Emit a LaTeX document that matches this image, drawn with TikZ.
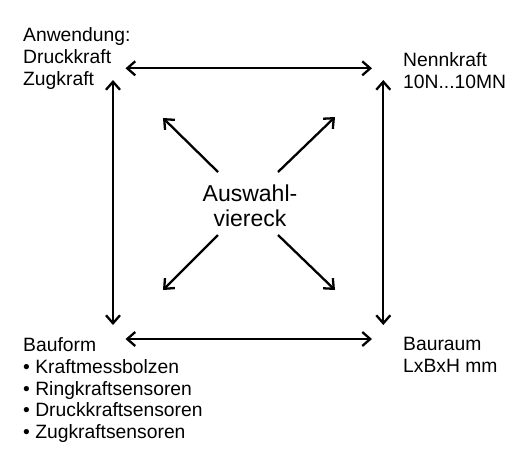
\documentclass[tikz,border=0pt]{standalone}
\usepackage{fontspec}
\setmainfont{Liberation Sans}
\usetikzlibrary{arrows.meta}
\begin{document}
\begin{tikzpicture}[x=1pt,y=-1pt,
  lbl/.style={anchor=base west,inner sep=0pt,align=left,font=\fontsize{19.3}{21.7}\selectfont},
  ctr/.style={anchor=base,inner sep=0pt,align=center,font=\fontsize{23}{25}\selectfont},
  arr/.style={line width=2.3pt,{Straight Barb[length=8pt,width=14pt]}-{Straight Barb[length=8pt,width=14pt]}},
  sarr/.style={line width=2.3pt,-{Straight Barb[length=8pt,width=14pt]}}]
\useasboundingbox (0,0) rectangle (530,475);
% base anchor = baseline of the last line
\node[lbl] (anw) at (23,85.1) {Anwendung:\\Druckkraft\\Zugkraft};
\node[lbl] (nenn) at (403,88.5) {Nennkraft\\10N...10MN};
\node[lbl] (bauform) at (23,438.6) {Bauform\\• Kraftmessbolzen\\• Ringkraftsensoren\\• Druckkraftsensoren\\• Zugkraftsensoren};
\node[lbl] (bauraum) at (403,372.6) {Bauraum\\LxBxH mm};
\node[ctr] (center) at (250,226.7) {Auswahl-\\viereck};
% arrow end points
\coordinate (tl) at (125.5,68.3);
\coordinate (tr) at (372,68.3);
\coordinate (bl) at (125.5,339);
\coordinate (br) at (372,339);
\coordinate (lt) at (113,80);
\coordinate (lb) at (113,325);
\coordinate (rt) at (383.3,80);
\coordinate (rb) at (383.3,325);
\draw[arr] (tl) -- (tr);
\draw[arr] (bl) -- (br);
\draw[arr] (lt) -- (lb);
\draw[arr] (rt) -- (rb);
% diagonal arrows
\coordinate (d1s) at (218,172);
\coordinate (d1e) at (163,118);
\coordinate (d2s) at (278,172);
\coordinate (d2e) at (335,117);
\coordinate (d3s) at (218,235);
\coordinate (d3e) at (163,290);
\coordinate (d4s) at (278,235);
\coordinate (d4e) at (335,290);
\draw[sarr] (d1s) -- (d1e);
\draw[sarr] (d2s) -- (d2e);
\draw[sarr] (d3s) -- (d3e);
\draw[sarr] (d4s) -- (d4e);
\end{tikzpicture}
\end{document}
